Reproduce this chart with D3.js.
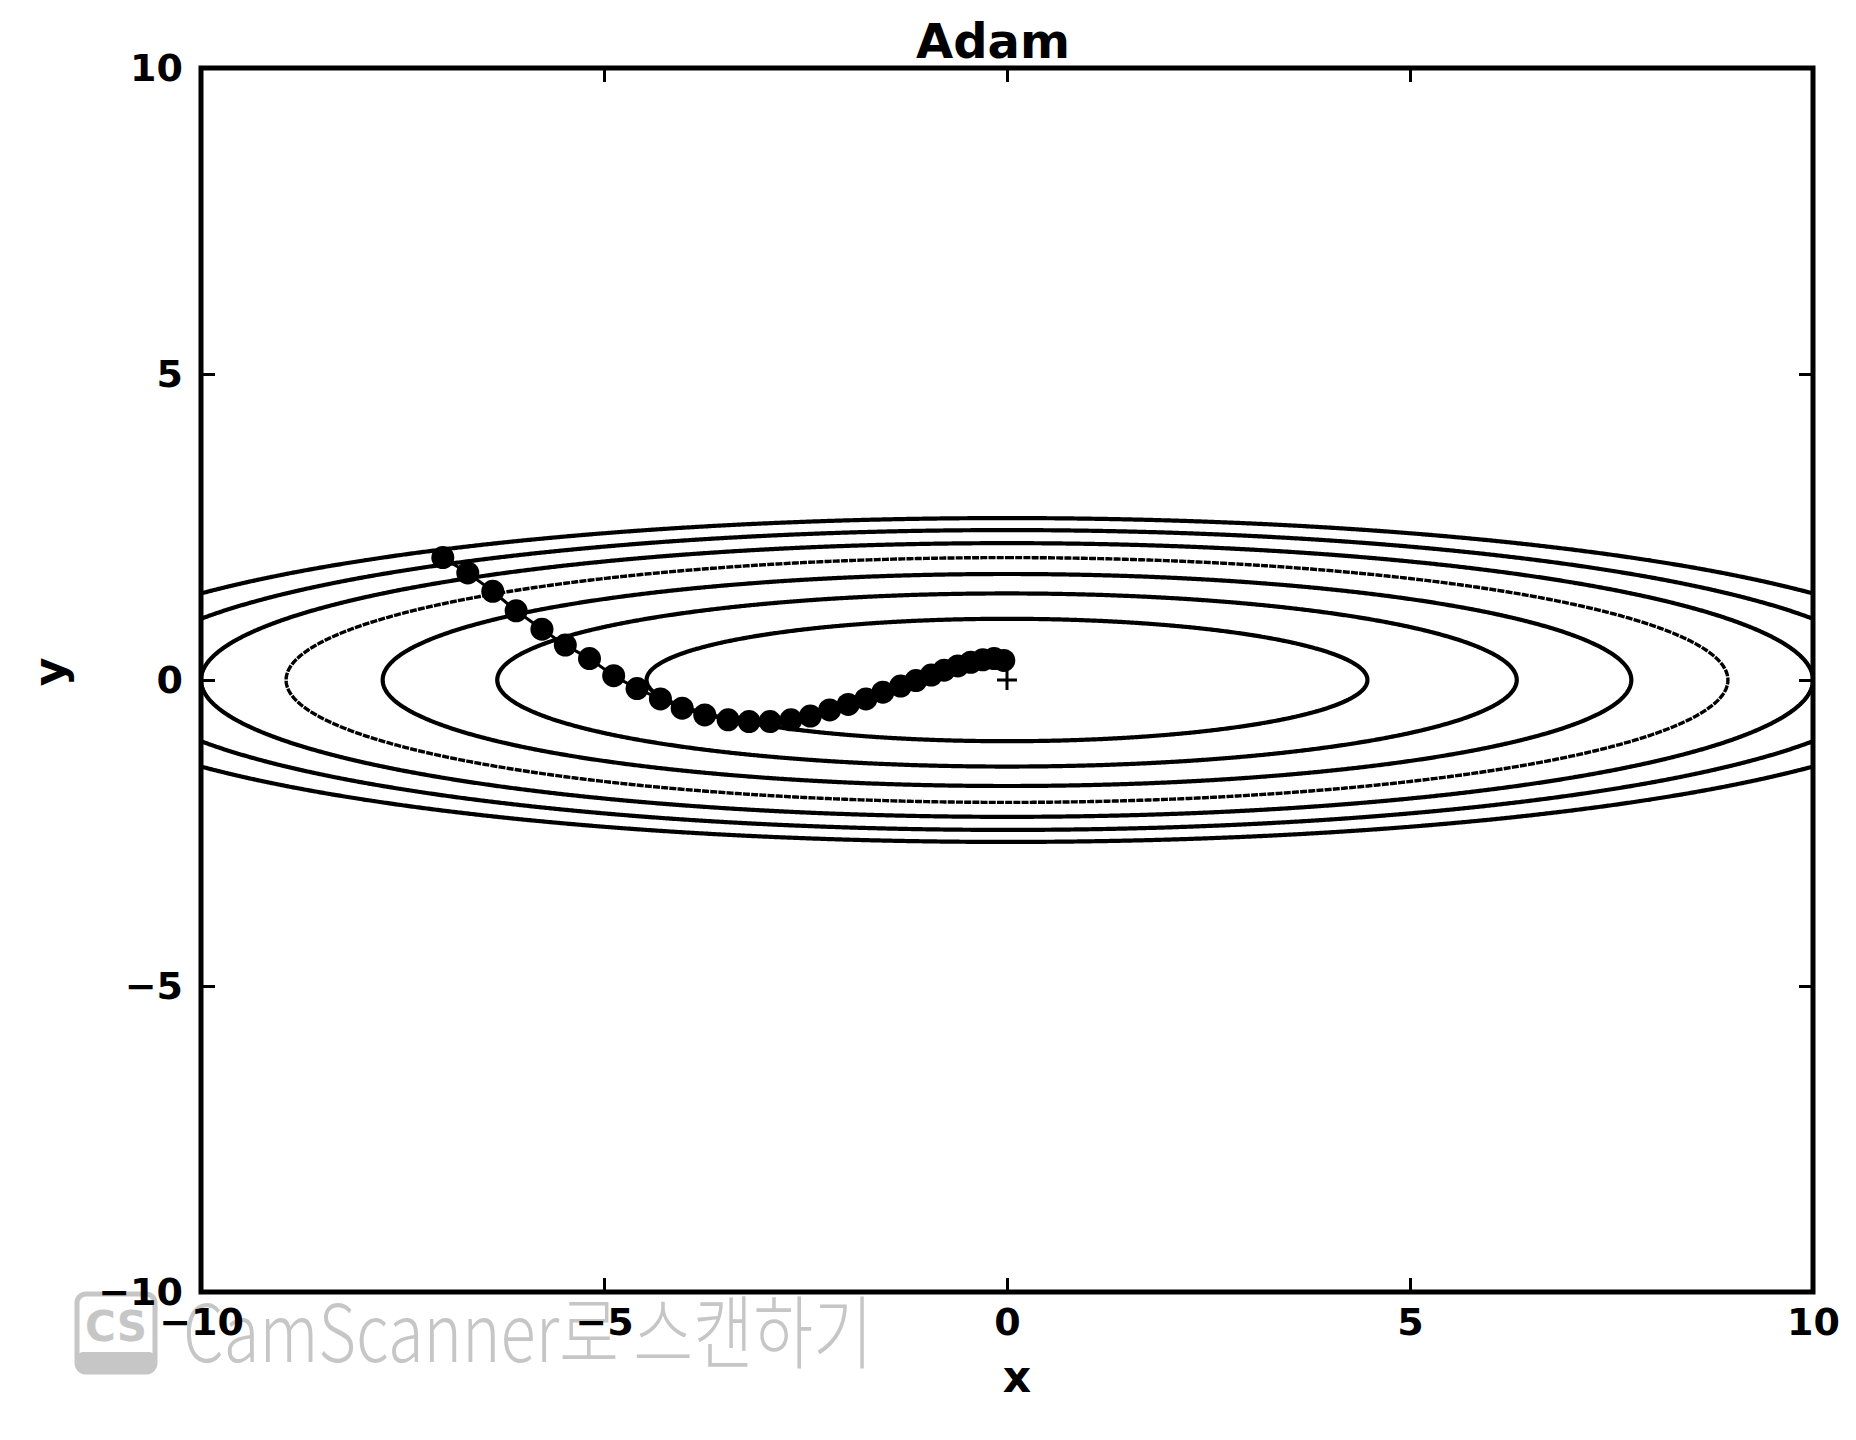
<!DOCTYPE html>
<html>
<head>
<meta charset="utf-8">
<script src="https://cdn.jsdelivr.net/npm/d3@7"></script>
<style>
  html, body { margin: 0; padding: 0; background: #fff; }
  svg { display: block; }
</style>
</head>
<body>
<svg id="chart"></svg>
<script>
// Data
const titleText = "Adam";
const xDomain = [-10, 10];
const yDomain = [-10, 10];
const xTicks = [-10, -5, 0, 5, 10];
const yTicks = [-10, -5, 0, 5, 10];
const contourLevels = [1, 2, 3, 4, 5, 6, 7];   // f(x, y) = x^2 / 20 + y^2
const roughLevel = 4;                          // the speckled contour in the print
const pathX = [-7.00, -6.69, -6.38, -6.09, -5.77, -5.48, -5.18, -4.88, -4.59, -4.30,
               -4.03, -3.75, -3.46, -3.20, -2.94, -2.68, -2.44, -2.20, -1.97, -1.75,
               -1.54, -1.32, -1.13, -0.94, -0.78, -0.61, -0.45, -0.30, -0.16, -0.04];
const pathY = [2.00, 1.75, 1.45, 1.13, 0.83, 0.57, 0.35, 0.07, -0.14, -0.31,
               -0.46, -0.57, -0.65, -0.68, -0.68, -0.65, -0.59, -0.49, -0.40, -0.31,
               -0.20, -0.10, -0.01, 0.08, 0.16, 0.23, 0.29, 0.33, 0.35, 0.32];
const minimum = [0, 0];
const watermarkText = "CamScanner로 스캔하기";

const W = 1856, H = 1440;
const margin = { top: 68, right: 43, bottom: 148, left: 201 };
const width = W - margin.left - margin.right;
const height = H - margin.top - margin.bottom;
const font = "'DejaVu Sans', sans-serif";

const svg = d3.select("#chart").attr("width", W).attr("height", H);

// watermark (sits under the chart text)
const wm = svg.append("g").attr("fill", "#c6c6c6");
wm.append("rect")
  .attr("x", 77).attr("y", 1294).attr("width", 78).attr("height", 78).attr("rx", 9)
  .attr("fill", "#fff").attr("stroke", "#c6c6c6").attr("stroke-width", 5);
wm.append("rect")
  .attr("x", 77).attr("y", 1352).attr("width", 78).attr("height", 20).attr("rx", 6);
wm.append("text")
  .attr("x", 116).attr("y", 1341)
  .attr("text-anchor", "middle")
  .style("font-family", "'DejaVu Sans', sans-serif")
  .style("font-weight", "bold")
  .style("font-size", "42px")
  .text("CS");
wm.append("text")
  .attr("x", 183).attr("y", 1362)
  .attr("textLength", 690).attr("lengthAdjust", "spacingAndGlyphs")
  .style("font-family", "'Noto Sans CJK KR', 'Noto Sans', sans-serif")
  .style("font-weight", 300)
  .style("font-size", "80px")
  .text(watermarkText);

const g = svg.append("g").attr("transform", `translate(${margin.left},${margin.top})`);

const x = d3.scaleLinear().domain(xDomain).range([0, width]);
const y = d3.scaleLinear().domain(yDomain).range([height, 0]);

g.append("clipPath").attr("id", "plot-clip")
  .append("rect").attr("width", width).attr("height", height);

// contour lines of the objective, through d3.contours on a sampled grid
const step = 0.02;
const gx0 = -10.5, gy0 = -3.5;
const nx = Math.round(21 / step) + 1, ny = Math.round(7 / step) + 1;
const values = new Float64Array(nx * ny);
for (let j = 0; j < ny; j++) {
  const yy = gy0 + j * step;
  for (let i = 0; i < nx; i++) {
    const xx = gx0 + i * step;
    values[j * nx + i] = -(xx * xx / 20 + yy * yy);
  }
}
const contours = d3.contours().size([nx, ny]).thresholds(contourLevels.map(c => -c))(values);
const gridToPlot = d3.geoTransform({
  point: function(px, py) {
    this.stream.point(x(gx0 + (px - 0.5) * step), y(gy0 + (py - 0.5) * step));
  }
});
const contourPath = d3.geoPath(gridToPlot);

g.append("g").attr("clip-path", "url(#plot-clip)")
  .selectAll("path")
  .data(contours)
  .join("path")
  .attr("d", contourPath)
  .attr("fill", "none")
  .attr("stroke", "#000")
  .attr("stroke-width", d => (-d.value === roughLevel ? 3.4 : 4.2))
  .attr("stroke-dasharray", d => (-d.value === roughLevel ? "7,1.2" : null));

// Adam trajectory
const pts = pathX.map((v, i) => ({ x: v, y: pathY[i] }));
const line = d3.line().x(d => x(d.x)).y(d => y(d.y));
const traj = g.append("g").attr("clip-path", "url(#plot-clip)");
traj.append("path")
  .datum(pts)
  .attr("fill", "none")
  .attr("stroke", "#000")
  .attr("stroke-width", 3)
  .attr("d", line);
traj.selectAll("circle")
  .data(pts)
  .join("circle")
  .attr("cx", d => x(d.x))
  .attr("cy", d => y(d.y))
  .attr("r", 11.5)
  .attr("fill", "#000");

// "+" at the minimum
const px = x(minimum[0]), py = y(minimum[1]);
g.append("path")
  .attr("d", `M${px - 10},${py}H${px + 10}M${px},${py - 10}V${py + 10}`)
  .attr("stroke", "#000")
  .attr("stroke-width", 3);

// axes: ticks inward on all four sides (classic matplotlib look)
function styleAxis(sel) {
  sel.select(".domain").remove();
  sel.selectAll(".tick line").attr("stroke", "#000").attr("stroke-width", 3);
  sel.selectAll(".tick text")
    .attr("fill", "#000")
    .style("font-family", font)
    .style("font-weight", "bold")
    .style("font-size", "38px");
}
const fmt = d => (d < 0 ? "\u2212" + Math.abs(d) : String(d));

g.append("g").attr("transform", `translate(0,${height})`)
  .call(d3.axisBottom(x).tickValues(xTicks).tickSizeInner(-14).tickSizeOuter(0).tickPadding(16).tickFormat(fmt))
  .call(styleAxis);
g.append("g")
  .call(d3.axisTop(x).tickValues(xTicks).tickSizeInner(-14).tickSizeOuter(0).tickFormat(""))
  .call(styleAxis);
g.append("g")
  .call(d3.axisLeft(y).tickValues(yTicks).tickSizeInner(-14).tickSizeOuter(0).tickPadding(18).tickFormat(fmt))
  .call(styleAxis);
g.append("g").attr("transform", `translate(${width},0)`)
  .call(d3.axisRight(y).tickValues(yTicks).tickSizeInner(-14).tickSizeOuter(0).tickFormat(""))
  .call(styleAxis);

// frame
g.append("rect")
  .attr("width", width).attr("height", height)
  .attr("fill", "none").attr("stroke", "#000").attr("stroke-width", 5);

// title and axis labels
g.append("text")
  .attr("x", width / 2 - 14).attr("y", -10)
  .attr("text-anchor", "middle")
  .style("font-family", font).style("font-weight", "bold").style("font-size", "48px")
  .text(titleText);
g.append("text")
  .attr("x", x(0) + 10).attr("y", height + 100)
  .attr("text-anchor", "middle")
  .style("font-family", font).style("font-weight", "bold").style("font-size", "44px")
  .text("x");
g.append("text")
  .attr("transform", `translate(${65 - margin.left},${y(0) - 8}) rotate(-90)`)
  .attr("text-anchor", "middle")
  .style("font-family", font).style("font-weight", "bold").style("font-size", "44px")
  .text("y");
</script>
</body>
</html>
